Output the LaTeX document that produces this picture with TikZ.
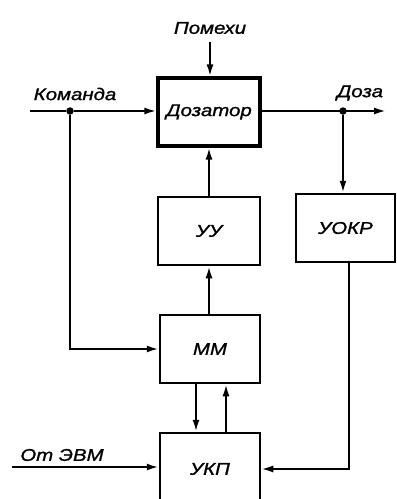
\documentclass[tikz,border=0pt]{standalone}
\usepackage{fontspec}
\setmainfont{Liberation Sans}[FakeStretch=1.2, FakeBold=1.2]
\usetikzlibrary{arrows.meta,calc}
\tikzset{
  blk/.style={draw, line width=2.5pt, inner sep=0pt, font=\fontsize{17}{20}\selectfont\itshape},
  lbl/.style={inner sep=0pt, font=\fontsize{17}{20}\selectfont\itshape},
  ln/.style={line width=2.1pt},
  arr/.style={ln, -{Latex[length=12pt,width=7pt]}},
  jdot/.style={circle, fill, inner sep=0pt, minimum size=7.5pt}
}
\begin{document}
\begin{tikzpicture}[x=1pt,y=1pt]
\useasboundingbox (0,0) rectangle (397,-499);
\clip (0,0) rectangle (397,-499);
% blocks
\node[blk, line width=3.3pt, minimum width=102pt, minimum height=68pt] (doz) at (209,-112) {Дозатор};
\node[blk, minimum width=102pt, minimum height=68pt] (uu) at (209,-231) {УУ};
\node[blk, minimum width=99pt, minimum height=68pt] (uokr) at (345.5,-228) {УОКР};
\node[blk, minimum width=100pt, minimum height=68pt] (mm) at (210,-349) {ММ};
\node[blk, minimum width=100pt, minimum height=72pt] (ukp) at (210,-469) {УКП};
% labels
\node[lbl] (pom) at (210,-28) {Помехи};
\node[lbl] (kom) at (75,-94) {Команда};
\node[lbl] (doza) at (360,-93) {Доза};
\node[lbl] (evm) at (62,-455) {От ЭВМ};
% junctions
\node[jdot] (j1) at (70,-111) {};
\node[jdot] (j2) at (343,-111) {};
\coordinate (cin) at (30,-111);
\coordinate (cout) at (386,-111);
\coordinate (pin) at (210,-42);
\coordinate (ein) at (12,-467);
% connectors
\draw[arr] (pin) -- (pin |- doz.north);
\draw[ln] (cin) -- (j1);
\draw[arr] (j1) -- (doz.west |- j1);
\draw[arr] (doz.east |- j2) -- (cout);
\draw[arr] (j2) -- (j2 |- uokr.north);
\draw[arr] (uu.north) -- (uu.north |- doz.south);
\draw[arr] (mm.north -| uu.north) -- (uu.south);
\draw[arr] (j1) |- (mm.west);
\draw[arr] ($(mm.south)+(-14,0)$) -- ($(mm.south |- ukp.north)+(-14,0)$);
\draw[arr] ($(mm.south |- ukp.north)+(16,0)$) -- ($(mm.south)+(16,0)$);
\draw[arr] ($(uokr.south)+(3.5,0)$) |- (ukp.east);
\draw[arr] (ein) -- (ein -| ukp.west);
\end{tikzpicture}
\end{document}
